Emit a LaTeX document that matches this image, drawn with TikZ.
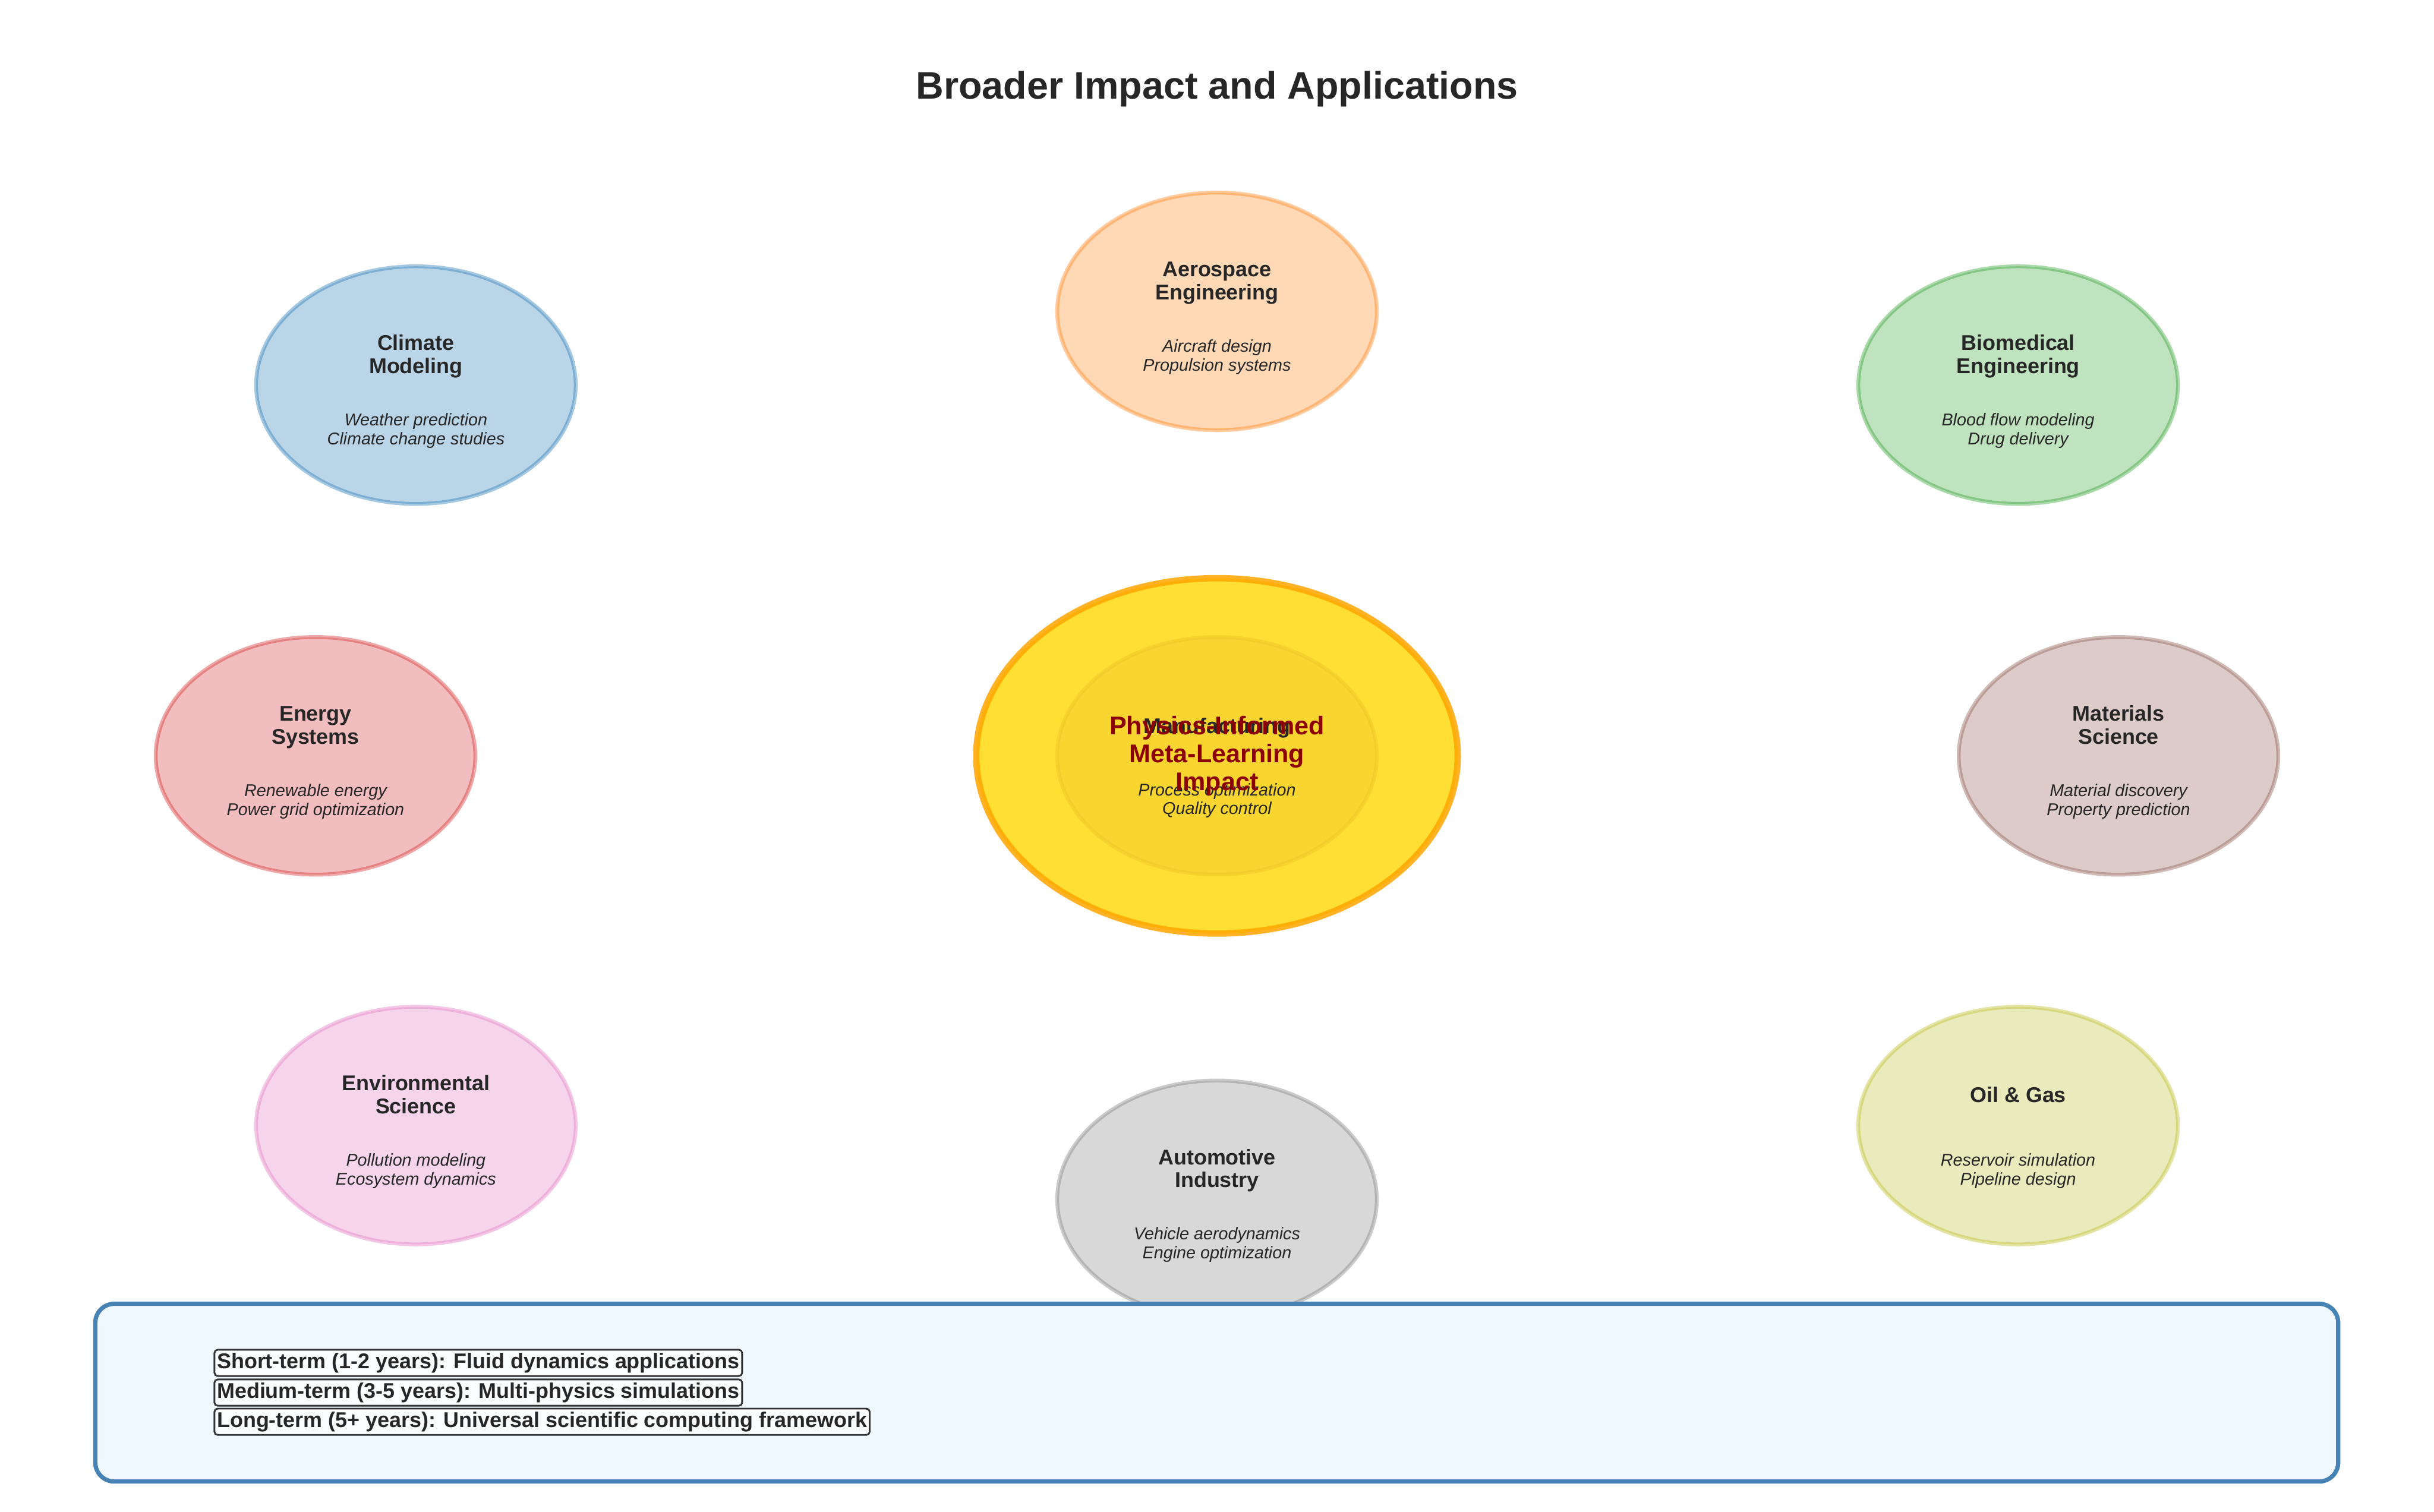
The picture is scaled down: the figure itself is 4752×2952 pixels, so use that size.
\documentclass[tikz,border=0pt]{standalone}
\usepackage{fontspec}
\setmainfont{Liberation Sans}
\usetikzlibrary{shapes.geometric}
\definecolor{tabblue}{RGB}{31,119,180}
\definecolor{taborange}{RGB}{255,127,14}
\definecolor{tabgreen}{RGB}{44,160,44}
\definecolor{tabred}{RGB}{214,39,40}
\definecolor{tabpurple}{RGB}{148,103,189}
\definecolor{tabbrown}{RGB}{140,86,75}
\definecolor{tabpink}{RGB}{227,119,194}
\definecolor{tabgray}{RGB}{127,127,127}
\definecolor{tabolive}{RGB}{188,189,34}
\definecolor{txt}{RGB}{38,38,38}
\definecolor{boxedge}{RGB}{51,51,51}
\definecolor{goldC}{RGB}{255,215,0}
\definecolor{orangeC}{RGB}{255,165,0}
\definecolor{dred}{RGB}{139,0,0}
\definecolor{steel}{RGB}{70,130,180}
\definecolor{alice}{RGB}{240,248,255}
\newcommand\AppTwo[8]{%
  \node[app=#4] (#1) at (#2,#3) {};
  \node[apptitle, yshift=16.32pt] (#1t1) at (#2,#3) {#5};
  \node[apptitle, yshift=5.52pt] (#1t2) at (#2,#3) {#6};
  \node[appitem, yshift=-18.96pt] (#1i1) at (#2,#3) {#7};
  \node[appitem, yshift=-27.84pt] (#1i2) at (#2,#3) {#8};
}
\newcommand\AppOne[7]{%
  \node[app=#4] (#1) at (#2,#3) {};
  \node[apptitle, yshift=10.8pt] (#1t1) at (#2,#3) {#5};
  \node[appitem, yshift=-18.96pt] (#1i1) at (#2,#3) {#6};
  \node[appitem, yshift=-27.84pt] (#1i2) at (#2,#3) {#7};
}
\begin{document}
\begin{tikzpicture}[x=0.24pt,y=-0.24pt,
  app/.style={ellipse, inner sep=0pt, minimum width=149.76pt, minimum height=111.36pt,
    line width=1.8pt, fill=#1, draw=#1, fill opacity=0.3, draw opacity=0.4},
  apptitle/.style={anchor=base, inner sep=0pt, text=txt, font=\bfseries\fontsize{10}{12}\selectfont},
  appitem/.style={anchor=base, inner sep=0pt, text=txt, font=\itshape\fontsize{8}{10}\selectfont},
  coretext/.style={anchor=base, inner sep=0pt, text=dred, font=\bfseries\fontsize{12}{14}\selectfont},
  termline/.style={anchor=base west, draw=boxedge, line width=0.8pt, fill=white, fill opacity=0.8,
    text opacity=1, draw opacity=1, rounded corners=1.5pt, inner xsep=1.2pt, inner ysep=1.4pt,
    text height=7.3pt, text depth=2.2pt, text=txt, font=\bfseries\fontsize{10}{12}\selectfont}]
\fill[white] (0,0) rectangle (4752,2952);
\useasboundingbox (0,0) rectangle (4752,2952);

\node[anchor=base, inner sep=0pt, text=txt, font=\bfseries\fontsize{18}{21}\selectfont] (title) at (2376,193) {Broader Impact and Applications};

% application ellipses
\AppTwo{clim}{812}{752}{tabblue}{Climate}{Modeling}{Weather prediction}{Climate change studies}
\AppTwo{aero}{2376}{608}{taborange}{Aerospace}{Engineering}{Aircraft design}{Propulsion systems}
\AppTwo{bio}{3940}{752}{tabgreen}{Biomedical}{Engineering}{Blood flow modeling}{Drug delivery}
\AppTwo{ener}{616}{1476}{tabred}{Energy}{Systems}{Renewable energy}{Power grid optimization}
\AppTwo{mat}{4136}{1476}{tabbrown}{Materials}{Science}{Material discovery}{Property prediction}
\AppTwo{env}{812}{2198}{tabpink}{Environmental}{Science}{Pollution modeling}{Ecosystem dynamics}
\AppTwo{auto}{2376}{2342}{tabgray}{Automotive}{Industry}{Vehicle aerodynamics}{Engine optimization}
\AppOne{oil}{3940}{2198}{tabolive}{Oil \& Gas}{Reservoir simulation}{Pipeline design}

% manufacturing ellipse (under the core)
\node[app=tabpurple] (manu) at (2376,1476) {};
% core
\node[ellipse, inner sep=0pt, minimum width=225.6pt, minimum height=166.56pt, line width=3pt,
  fill=goldC, fill opacity=0.8, draw=orangeC, draw opacity=0.85] (core) at (2376,1476) {};
\node[apptitle, yshift=10.56pt] (manut1) at (manu.center) {Manufacturing};
\node[appitem, yshift=-18.72pt] (manui1) at (manu.center) {Process optimization};
\node[appitem, yshift=-27.36pt] (manui2) at (manu.center) {Quality control};
\node[coretext] (core1) at (2376,1435) {Physics-Informed};
\node[coretext] (core2) at (2376,1489) {Meta-Learning};
\node[coretext] (core3) at (2376,1543) {Impact};

% roadmap box
\node[draw=steel, fill=alice, line width=2pt, rounded corners=8.9pt, inner sep=0pt,
  minimum width=1050.96pt, minimum height=83.28pt] (roadmap) at (2375.5,2719.5) {};
\node[termline] (short) at (417,2672) {Short-term (1-2 years): Fluid dynamics applications};
\node[termline] (medium) at (417,2730) {Medium-term (3-5 years): Multi-physics simulations};
\node[termline] (long) at (417,2787) {Long-term (5+ years): Universal scientific computing framework};
\end{tikzpicture}
\end{document}
